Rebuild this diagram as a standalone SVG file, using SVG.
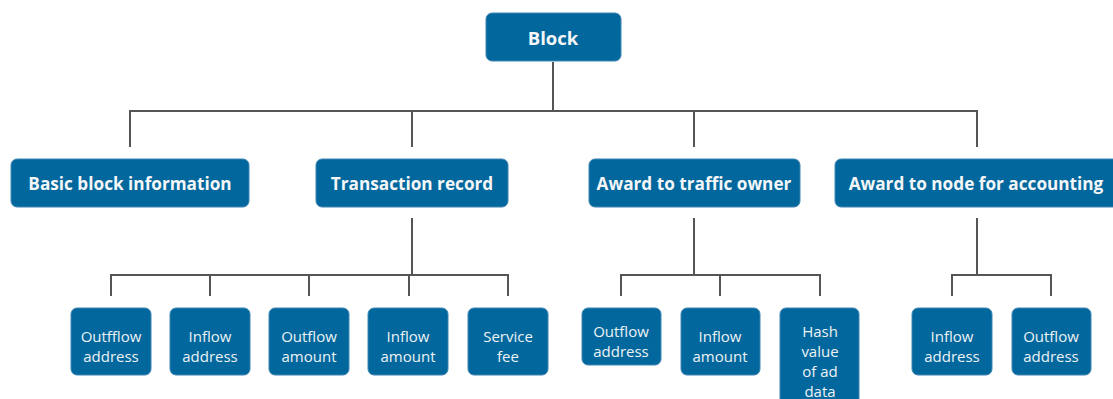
<svg xmlns="http://www.w3.org/2000/svg" width="1113" height="399" viewBox="0 0 1113 399">
<style>
.box{fill:#02679c;stroke:#3f86b3;stroke-width:1}
.t1{font-family:"Open Sans","Noto Sans",sans-serif;font-weight:bold;font-size:17.2px;fill:#f4f6f8;text-anchor:middle;dominant-baseline:central}
.t0{font-size:18.5px}
.t2{font-family:"Open Sans","Noto Sans",sans-serif;font-size:15px;fill:#eef2f5;text-anchor:middle;dominant-baseline:central}
.ln{stroke:#555;stroke-width:2;fill:none}
</style>
<rect width="1113" height="399" fill="#ffffff"/>
<g id="connectors">
<path class="ln" d="M553 62V111M130 147V111H977V147M412 111V147M694 111V147"/>
<path class="ln" d="M412 218V275M111 296V275H508V296M210 275V296M309 275V296M409 275V296"/>
<path class="ln" d="M694 218V275M621 296V275H820V296M720 275V296"/>
<path class="ln" d="M977 218V275M952 296V275H1051V296"/>
</g>
<g id="block"><rect class="box" x="486" y="13" width="135" height="48" rx="6"/><text class="t1 t0" x="553" y="37">Block</text></g>
<g id="basic"><rect class="box" x="11" y="159" width="238" height="48" rx="6"/><text class="t1" x="130" y="183">Basic block information</text></g>
<g id="txrec"><rect class="box" x="316" y="159" width="192" height="48" rx="6"/><text class="t1" x="412" y="183">Transaction record</text></g>
<g id="traffic"><rect class="box" x="589" y="159" width="211" height="48" rx="6"/><text class="t1" x="694" y="183">Award to traffic owner</text></g>
<g id="nodeacc"><rect class="box" x="835" y="159" width="284" height="48" rx="6"/><text class="t1" x="976" y="183">Award to node for accounting</text></g>
<g id="tx-outaddr"><rect class="box" x="71" y="308" width="80" height="67" rx="6"/><text class="t2" x="111" y="336">Outfflow</text><text class="t2" x="111" y="356">address</text></g>
<g id="tx-inaddr"><rect class="box" x="170" y="308" width="80" height="67" rx="6"/><text class="t2" x="210" y="336">Inflow</text><text class="t2" x="210" y="356">address</text></g>
<g id="tx-outamt"><rect class="box" x="269" y="308" width="80" height="67" rx="6"/><text class="t2" x="309" y="336">Outflow</text><text class="t2" x="309" y="356">amount</text></g>
<g id="tx-inamt"><rect class="box" x="368" y="308" width="80" height="67" rx="6"/><text class="t2" x="408" y="336">Inflow</text><text class="t2" x="408" y="356">amount</text></g>
<g id="tx-fee"><rect class="box" x="468" y="308" width="80" height="67" rx="6"/><text class="t2" x="508" y="336">Service</text><text class="t2" x="508" y="356">fee</text></g>
<g id="tr-outaddr"><rect class="box" x="582" y="308" width="79" height="57" rx="6"/><text class="t2" x="621" y="331">Outflow</text><text class="t2" x="621" y="351">address</text></g>
<g id="tr-inamt"><rect class="box" x="681" y="308" width="79" height="67" rx="6"/><text class="t2" x="720" y="336">Inflow</text><text class="t2" x="720" y="356">amount</text></g>
<g id="tr-hash"><rect class="box" x="780" y="308" width="79" height="100" rx="6"/><text class="t2" x="820" y="331">Hash</text><text class="t2" x="820" y="351">value</text><text class="t2" x="820" y="371">of ad</text><text class="t2" x="820" y="391">data</text></g>
<g id="na-inaddr"><rect class="box" x="912" y="308" width="80" height="67" rx="6"/><text class="t2" x="952" y="336">Inflow</text><text class="t2" x="952" y="356">address</text></g>
<g id="na-outaddr"><rect class="box" x="1012" y="308" width="79" height="67" rx="6"/><text class="t2" x="1051" y="336">Outflow</text><text class="t2" x="1051" y="356">address</text></g>
</svg>
